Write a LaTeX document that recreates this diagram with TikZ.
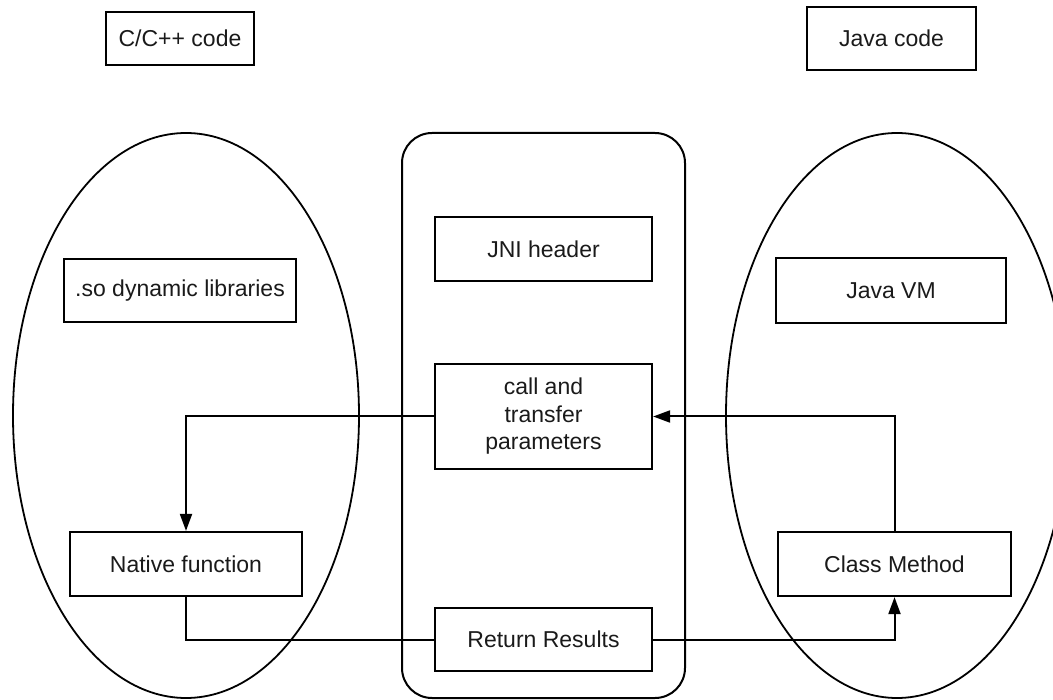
\documentclass[tikz,border=0pt]{standalone}
\usepackage{fontspec}
\setmainfont{Liberation Sans}
\usetikzlibrary{arrows.meta}
\definecolor{ink}{HTML}{1A1A1A}
\tikzset{
  box/.style={draw=black, line width=2.2pt, rectangle, inner sep=0pt,
    text=ink, align=center, font=\fontsize{23}{27.5}\selectfont},
  region/.style={draw=black, line width=1.8pt},
  link/.style={draw=black, line width=2pt},
  tip/.style={-{Triangle[length=17pt,width=12pt]}}
}
\begin{document}
\begin{tikzpicture}[x=1pt,y=-1pt]
  \useasboundingbox (0,0) rectangle (1053,700);

  % enclosing regions
  \draw[region] (186,415.5) ellipse [x radius=173, y radius=282.5];
  \draw[region] (897,415.5) ellipse [x radius=171, y radius=282.5];
  \draw[region, line width=2pt, rounded corners=30pt] (402,133) rectangle (685,698);

  % captions
  \node[box, minimum width=148pt, minimum height=53pt] (cpp) at (180,38.5) {C/C++ code};
  \node[box, minimum width=169pt, minimum height=63pt] (java) at (891.5,38.5) {Java code};

  % middle column
  \node[box, minimum width=217pt, minimum height=64pt] (jni) at (543.5,249) {JNI header};
  \node[box, minimum width=217pt, minimum height=105pt] (call) at (543.5,416.5) {call and\\transfer\\parameters};
  \node[box, minimum width=217pt, minimum height=63pt] (ret) at (543.5,639.5) {Return Results};

  % native side
  \node[box, minimum width=232pt, minimum height=63pt] (so) at (180,290.5) {.so dynamic libraries};
  \node[box, minimum width=232pt, minimum height=64pt] (native) at (186,564) {Native function};

  % Java side
  \node[box, minimum width=230pt, minimum height=65pt] (vm) at (891,290.5) {Java VM};
  \node[box, minimum width=233pt, minimum height=64pt] (method) at (894.5,564) {Class Method};

  % call path
  \draw[link, tip] (method.north) |- (call.east);
  \draw[link, tip] (call.west) -| (native.north);
  % return path
  \draw[link] (native.south) |- (ret.west);
  \draw[link, tip] (ret.east) -| (method.south);
\end{tikzpicture}
\end{document}
